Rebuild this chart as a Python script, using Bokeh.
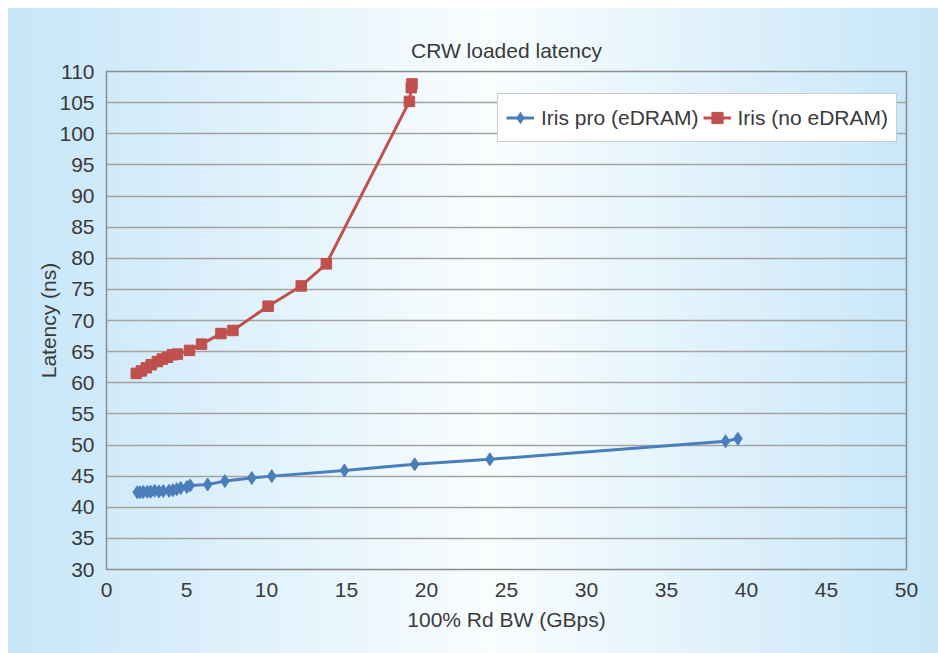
from bokeh.plotting import figure
from bokeh.models import FixedTicker, Legend, LegendItem, Range1d
from bokeh.embed import file_html
from bokeh.resources import INLINE

# Data
iris_pro_bw = [1.92, 2.10, 2.30, 2.55, 2.76, 3.01, 3.28, 3.55, 3.91, 4.15, 4.39, 4.64,
               5.02, 5.23, 6.32, 7.40, 9.08, 10.33, 14.87, 19.26, 23.96, 38.69, 39.46]
iris_pro_lat = [42.4, 42.4, 42.45, 42.5, 42.5, 42.65, 42.55, 42.6, 42.65, 42.75, 42.9, 43.1,
                43.25, 43.5, 43.65, 44.2, 44.7, 45.0, 45.9, 46.9, 47.7, 50.6, 51.0]

iris_bw = [1.86, 2.18, 2.49, 2.80, 3.18, 3.49, 3.81, 4.12, 4.43, 5.19, 5.94, 7.15, 7.90,
           10.10, 12.17, 13.74, 18.93, 19.05, 19.09]
iris_lat = [61.5, 61.9, 62.4, 62.9, 63.4, 63.8, 64.1, 64.5, 64.6, 65.2, 66.2, 67.9, 68.4,
            72.3, 75.55, 79.1, 105.2, 107.4, 108.0]

x_ticks = [0, 5, 10, 15, 20, 25, 30, 35, 40, 45, 50]
y_ticks = list(range(30, 111, 5))

FONT = "Liberation Sans"
TXT = "#3a3a3a"
BLUE = "#4a7ebb"
RED = "#c0504d"

p = figure(width=938, height=653, output_backend="svg", toolbar_location=None,
           x_range=Range1d(0, 50), y_range=Range1d(30, 110),
           title="CRW loaded latency",
           min_border_left=106, min_border_right=32, min_border_top=71, min_border_bottom=84)

p.styles = {"background": "linear-gradient(to right, #c6e6f8 0%, #f9fdfe 52%, #c6e6f8 100%) 8px 8px / calc(100% - 8px) calc(100% - 8px) no-repeat, #ffffff"}
p.background_fill_color = None
p.border_fill_color = None
p.outline_line_color = "#8c8c8c"
p.outline_line_width = 1.5

p.title.align = "center"
p.title.text_font = FONT
p.title.text_font_size = "21px"
p.title.text_font_style = "normal"
p.title.text_color = TXT
p.title.standoff = 20

p.xaxis.ticker = FixedTicker(ticks=x_ticks)
p.yaxis.ticker = FixedTicker(ticks=y_ticks)
for ax in (p.xaxis, p.yaxis):
    ax.axis_line_color = None
    ax.major_tick_line_color = None
    ax.minor_tick_line_color = None
    ax.major_label_text_font = FONT
    ax.major_label_text_font_size = "21px"
    ax.major_label_text_color = TXT
    ax.axis_label_text_font = FONT
    ax.axis_label_text_font_size = "21px"
    ax.axis_label_text_font_style = "normal"
    ax.axis_label_text_color = TXT
p.xaxis.axis_label = "100% Rd BW (GBps)"
p.yaxis.axis_label = "Latency (ns)"
p.xaxis.major_label_standoff = 7
p.xaxis.axis_label_standoff = 8
p.yaxis.major_label_standoff = 6
p.yaxis.axis_label_standoff = -4

p.xgrid.grid_line_color = None
p.ygrid.grid_line_color = "#a3a3a3"
p.ygrid.grid_line_width = 1.5

l1 = p.line(iris_pro_bw, iris_pro_lat, line_color=BLUE, line_width=3)
m1 = p.scatter(iris_pro_bw, iris_pro_lat, marker="diamond", size=13,
               fill_color=BLUE, line_color=BLUE)
l2 = p.line(iris_bw, iris_lat, line_color=RED, line_width=3)
m2 = p.scatter(iris_bw, iris_lat, marker="square", size=10.5,
               fill_color=RED, line_color=RED)

legend = Legend(items=[LegendItem(label="Iris pro (eDRAM)", renderers=[l1, m1]),
                       LegendItem(label="Iris (no eDRAM)", renderers=[l2, m2])],
                orientation="horizontal", location=(391, 427))
legend.label_text_font = FONT
legend.label_text_font_size = "21px"
legend.label_text_color = TXT
legend.glyph_width = 28
legend.glyph_height = 31
legend.label_height = 31
legend.label_standoff = 7
legend.spacing = 4
legend.padding = 8
legend.margin = 0
legend.border_line_color = "#999999"
legend.border_line_width = 1.5
legend.background_fill_color = "white"
legend.background_fill_alpha = 1
p.add_layout(legend, "center")

open("out.html", "w").write(file_html(p, INLINE))
